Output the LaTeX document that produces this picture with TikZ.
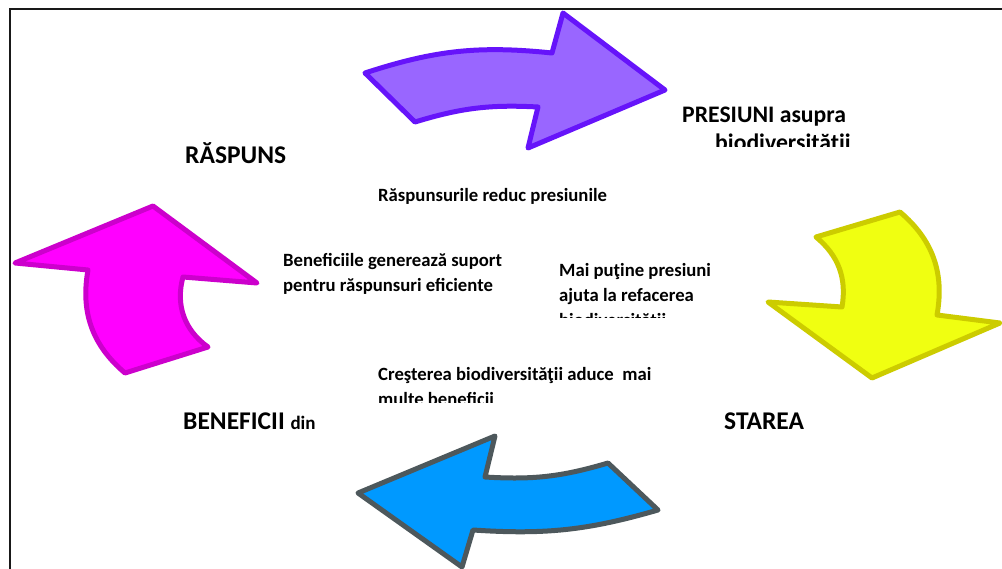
\documentclass[tikz,border=0pt]{standalone}
\usepackage{fontspec}
\setmainfont{Carlito}
\usepackage{tikz}
\definecolor{presfill}{RGB}{153,102,255}
\definecolor{presline}{RGB}{102,20,250}
\definecolor{starefill}{RGB}{240,255,17}
\definecolor{stareline}{RGB}{204,204,0}
\definecolor{benfill}{RGB}{0,153,255}
\definecolor{benline}{RGB}{77,88,92}
\definecolor{raspfill}{RGB}{255,0,255}
\definecolor{raspline}{RGB}{204,0,204}
\tikzset{
  cyclearrow/.style={line width=5pt, line join=round},
  biglabel/.style={inner sep=0pt, anchor=base west, font=\fontsize{25.5}{30}\selectfont\bfseries},
  textlabel/.style={inner sep=0pt, anchor=base west, align=left, font=\fontsize{18.7}{25}\selectfont\bfseries}
}

\begin{document}
\begin{tikzpicture}[x=1pt,y=-1pt]
    \useasboundingbox (0,0) rectangle (1002,569);
    \draw[line width=2pt, black!90] (1002,9.5) -- (9.5,9.5) -- (9.5,569);
    % presiuni
    \draw[cyclearrow, draw=presline, fill=presfill] (365,73) to[bend left=12] (552,53) -- (563,13) -- (665,90)
        -- (528,148) -- (538,107) to[bend right=10] (415,122) -- cycle;
    % starea
    \draw[cyclearrow, draw=stareline, fill=starefill] (816,237) -- (900,212) to[bend left=30] (937,315) -- (1000,323)
        -- (872,378) -- (768,302) -- (842,307) to[bend right=30] cycle;
    % beneficii
    \draw[cyclearrow, draw=benline, fill=benfill] (358,493) -- (495,436) -- (485,477) to[bend right=10] (608,463)
        -- (658,510) to[bend left=10] (473,530) -- (462,567) -- cycle;
    % raspuns
    \draw[cyclearrow, draw=raspline, fill=raspfill] (15,263) -- (153,206) -- (257,283) -- (183,277) to[bend right=35] (208,347)
        -- (125,373) to[bend left=30] (88,270) -- cycle;

    \node[biglabel] (raspuns) at (185,164) {RĂSPUNS};
    \begin{scope}
        \clip (600,0) rectangle (1002,147);
        \node[textlabel, font=\fontsize{23.7}{28}\selectfont\bfseries] (presiuni) at (682,151) {PRESIUNI asupra\\\hspace*{33pt}biodiversităţii};
    \end{scope}
    \node[biglabel] (stare) at (724,430) {STAREA};
    \node[biglabel] (beneficii) at (183,430) {BENEFICII {\fontsize{19}{22}\selectfont din}};

    \node[textlabel] (reduc) at (378,202) {Răspunsurile reduc presiunile};
    \node[textlabel] (suport) at (283,292) {Beneficiile generează suport\\pentru răspunsuri eficiente};
    \begin{scope}
        \clip (540,250) rectangle (760,318);
        \node[textlabel] (refacere) at (559,327) {Mai puţine presiuni\\ajuta la refacerea\\biodiversităţii};
    \end{scope}
    \begin{scope}
        \clip (360,355) rectangle (700,403);
        \node[textlabel] (crestere) at (378,406) {Creşterea biodiversităţii aduce\ \ mai\\multe beneficii};
    \end{scope}
\end{tikzpicture}
\end{document}
